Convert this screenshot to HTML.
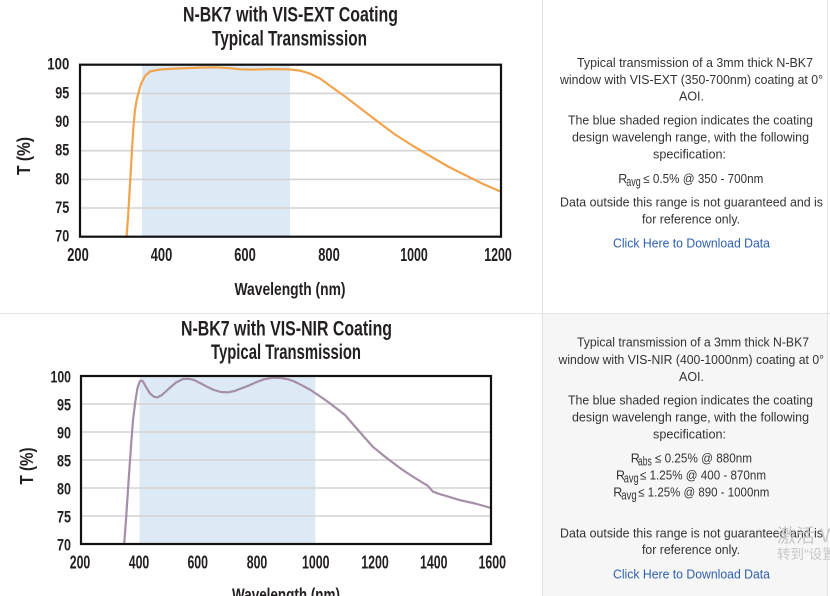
<!DOCTYPE html>
<html><head><meta charset="utf-8"><style>
html,body{margin:0;padding:0;background:#fff;}
body{width:830px;height:596px;overflow:hidden;}
svg{display:block;}
.t{font-family:"Liberation Sans Narrow","Liberation Sans",sans-serif;font-weight:bold;fill:#231f20;}
.p{font-family:"Liberation Sans","DejaVu Sans",sans-serif;fill:#333;font-size:12.5px;}
.lk{font-family:"Liberation Sans","DejaVu Sans",sans-serif;fill:#2d5fb0;font-size:12.5px;}
.wm{font-family:"Liberation Sans","Noto Sans CJK SC",sans-serif;fill:#c8c8c8;}
</style></head><body>
<svg width="830" height="596" viewBox="0 0 830 596" xmlns="http://www.w3.org/2000/svg">
<rect x="0" y="0" width="830" height="596" fill="#fff"/>
<rect x="543" y="314" width="284" height="282" fill="#f6f6f6"/>
<line x1="0" y1="313.5" x2="830" y2="313.5" stroke="#e2e2e2" stroke-width="1"/>
<line x1="542.5" y1="0" x2="542.5" y2="596" stroke="#e2e2e2" stroke-width="1"/>
<line x1="827.5" y1="0" x2="827.5" y2="596" stroke="#e2e2e2" stroke-width="1"/>

<!-- ===== Chart 1 ===== -->
<text class="t" x="183" y="21.7" font-size="21" textLength="215" lengthAdjust="spacingAndGlyphs">N-BK7 with VIS-EXT Coating</text>
<text class="t" x="212" y="45.5" font-size="21" textLength="155" lengthAdjust="spacingAndGlyphs">Typical Transmission</text>

<rect x="142" y="64.7" width="148" height="172" fill="#dde9f5"/>
<g stroke="#d3d3d3" stroke-width="1.6">
<line x1="80" y1="93.4" x2="501" y2="93.4"/>
<line x1="80" y1="122.0" x2="501" y2="122.0"/>
<line x1="80" y1="150.7" x2="501" y2="150.7"/>
<line x1="80" y1="179.4" x2="501" y2="179.4"/>
<line x1="80" y1="208.0" x2="501" y2="208.0"/>
</g>
<polyline fill="none" stroke="#f2a44c" stroke-width="2.2" stroke-linejoin="round" stroke-linecap="round"
points="126.5,237 128,218 130,184 132,150 133.5,126 135,110 136.7,100 138.3,93.3 141,84 145,76 150,71.5 160,69.5 175,68.6 200,67.6 215,67.3 230,68.2 240,69.3 252,69.6 270,69.1 288,69.3 300,70.6 310,73.6 320,78.5 331,86.5 345,96.5 360,108 379,122.5 395,134.5 414,146.5 430,156 448,166.5 465,175 482,183.5 501,191.7"/>
<rect x="80" y="64.7" width="421" height="172" fill="none" stroke="#111" stroke-width="2.2"/>

<g class="t" font-size="17" text-anchor="end">
<text x="69.3" y="69.6" textLength="22" lengthAdjust="spacingAndGlyphs">100</text>
<text x="69.3" y="98.4" textLength="14" lengthAdjust="spacingAndGlyphs">95</text>
<text x="69.3" y="127" textLength="14" lengthAdjust="spacingAndGlyphs">90</text>
<text x="69.3" y="155.7" textLength="14" lengthAdjust="spacingAndGlyphs">85</text>
<text x="69.3" y="184.4" textLength="14" lengthAdjust="spacingAndGlyphs">80</text>
<text x="69.3" y="213" textLength="14" lengthAdjust="spacingAndGlyphs">75</text>
<text x="69.3" y="241.7" textLength="14" lengthAdjust="spacingAndGlyphs">70</text>
</g>
<g class="t" font-size="18" text-anchor="middle">
<text x="78" y="261" textLength="21.5" lengthAdjust="spacingAndGlyphs">200</text>
<text x="161.5" y="261" textLength="21.5" lengthAdjust="spacingAndGlyphs">400</text>
<text x="245" y="261" textLength="21.5" lengthAdjust="spacingAndGlyphs">600</text>
<text x="329" y="261" textLength="21.5" lengthAdjust="spacingAndGlyphs">800</text>
<text x="414" y="261" textLength="27.5" lengthAdjust="spacingAndGlyphs">1000</text>
<text x="498" y="261" textLength="27.5" lengthAdjust="spacingAndGlyphs">1200</text>
</g>
<text class="t" x="234.5" y="295" font-size="17.5" textLength="111" lengthAdjust="spacingAndGlyphs">Wavelength (nm)</text>
<text class="t" font-size="18" text-anchor="middle" textLength="38" lengthAdjust="spacingAndGlyphs" transform="translate(30,156) rotate(-90)">T (%)</text>

<!-- ===== Chart 2 ===== -->
<text class="t" x="181" y="335.7" font-size="21" textLength="211" lengthAdjust="spacingAndGlyphs">N-BK7 with VIS-NIR Coating</text>
<text class="t" x="211" y="359" font-size="21" textLength="150" lengthAdjust="spacingAndGlyphs">Typical Transmission</text>

<rect x="139.6" y="376" width="175.7" height="168" fill="#dde9f5"/>
<g stroke="#d3d3d3" stroke-width="1.6">
<line x1="81" y1="404" x2="491" y2="404"/>
<line x1="81" y1="432" x2="491" y2="432"/>
<line x1="81" y1="460" x2="491" y2="460"/>
<line x1="81" y1="488" x2="491" y2="488"/>
<line x1="81" y1="516" x2="491" y2="516"/>
</g>
<polyline fill="none" stroke="#a58fa8" stroke-width="2.2" stroke-linejoin="round" stroke-linecap="round"
points="124.2,544 126,520 128.5,482 131.1,445 133,420 135.3,401.7 137.5,388 139.5,382 141,380.5 143,381.5 146,387 150,393.5 154,396.8 157.5,397.3 162,395 169,388.5 176,382.5 183,379 189,378.8 194,380 200,383 207,386.7 214,390 220.8,392 228,392.3 234.6,391 241,388.5 248.4,385.7 256,382.3 264,379.3 272.6,377.7 281,378 288,379.3 293.3,381 300,384.3 310.6,390 318,395 327.8,401.7 336,408 345,415 358,430 372.7,446.7 386,457.5 400.3,468.3 411,475.5 421,481.7 428,486 433,491.7 440,494.2 448.6,496.7 460,500.2 475,503.5 490,507.7"/>
<rect x="81" y="376" width="410" height="168" fill="none" stroke="#111" stroke-width="2.2"/>

<g class="t" font-size="17" text-anchor="end">
<text x="71" y="382.4" textLength="20.5" lengthAdjust="spacingAndGlyphs">100</text>
<text x="71" y="410.4" textLength="14" lengthAdjust="spacingAndGlyphs">95</text>
<text x="71" y="438.4" textLength="14" lengthAdjust="spacingAndGlyphs">90</text>
<text x="71" y="466.4" textLength="14" lengthAdjust="spacingAndGlyphs">85</text>
<text x="71" y="494.4" textLength="14" lengthAdjust="spacingAndGlyphs">80</text>
<text x="71" y="522.4" textLength="14" lengthAdjust="spacingAndGlyphs">75</text>
<text x="71" y="550.4" textLength="14" lengthAdjust="spacingAndGlyphs">70</text>
</g>
<g class="t" font-size="18" text-anchor="middle">
<text x="80" y="568.3" textLength="20.5" lengthAdjust="spacingAndGlyphs">200</text>
<text x="139" y="568.3" textLength="20.5" lengthAdjust="spacingAndGlyphs">400</text>
<text x="197.7" y="568.3" textLength="20.5" lengthAdjust="spacingAndGlyphs">600</text>
<text x="257" y="568.3" textLength="20.5" lengthAdjust="spacingAndGlyphs">800</text>
<text x="315.7" y="568.3" textLength="27.5" lengthAdjust="spacingAndGlyphs">1000</text>
<text x="375" y="568.3" textLength="27.5" lengthAdjust="spacingAndGlyphs">1200</text>
<text x="433.7" y="568.3" textLength="27.5" lengthAdjust="spacingAndGlyphs">1400</text>
<text x="492.3" y="568.3" textLength="27.5" lengthAdjust="spacingAndGlyphs">1600</text>
</g>
<text class="t" x="232" y="600.5" font-size="17.5" textLength="108" lengthAdjust="spacingAndGlyphs">Wavelength (nm)</text>
<text class="t" font-size="18" text-anchor="middle" textLength="37" lengthAdjust="spacingAndGlyphs" transform="translate(33,466) rotate(-90)">T (%)</text>

<!-- ===== Right panel 1 ===== -->
<text class="p" x="577" y="67" textLength="236" lengthAdjust="spacingAndGlyphs">Typical transmission of a 3mm thick N-BK7</text>
<text class="p" x="560" y="84" textLength="263" lengthAdjust="spacingAndGlyphs">window with VIS-EXT (350-700nm) coating at 0°</text>
<text class="p" x="691.5" y="100.5" text-anchor="middle">AOI.</text>
<text class="p" x="568" y="124.5" textLength="245" lengthAdjust="spacingAndGlyphs">The blue shaded region indicates the coating</text>
<text class="p" x="572" y="141.5" textLength="237" lengthAdjust="spacingAndGlyphs">design wavelengh range, with the following</text>
<text class="p" x="653" y="158.3" textLength="73" lengthAdjust="spacingAndGlyphs">specification:</text>
<text class="p" x="618.3" y="183">R</text>
<text class="p" x="626.3" y="186" font-size="9.5" textLength="14.4" lengthAdjust="spacingAndGlyphs">avg</text>
<text class="p" x="643.3" y="183" textLength="120" lengthAdjust="spacingAndGlyphs">≤ 0.5% @ 350 - 700nm</text>
<text class="p" x="560" y="206.3" textLength="263" lengthAdjust="spacingAndGlyphs">Data outside this range is not guaranteed and is</text>
<text class="p" x="642" y="223.3" textLength="98" lengthAdjust="spacingAndGlyphs">for reference only.</text>
<text class="lk" x="613" y="247.5" textLength="157" lengthAdjust="spacingAndGlyphs">Click Here to Download Data</text>

<!-- ===== Right panel 2 ===== -->
<text class="p" x="577" y="346.7" textLength="232" lengthAdjust="spacingAndGlyphs">Typical transmission of a 3mm thick N-BK7</text>
<text class="p" x="558.5" y="364" textLength="265.5" lengthAdjust="spacingAndGlyphs">window with VIS-NIR (400-1000nm) coating at 0°</text>
<text class="p" x="691.5" y="381" text-anchor="middle">AOI.</text>
<text class="p" x="568" y="404.3" textLength="245" lengthAdjust="spacingAndGlyphs">The blue shaded region indicates the coating</text>
<text class="p" x="572" y="421.7" textLength="237" lengthAdjust="spacingAndGlyphs">design wavelengh range, with the following</text>
<text class="p" x="653" y="438.3" textLength="73" lengthAdjust="spacingAndGlyphs">specification:</text>

<text class="p" x="630.7" y="462.7">R</text>
<text class="p" x="638" y="465.7" font-size="9.5" textLength="13.7" lengthAdjust="spacingAndGlyphs">abs</text>
<text class="p" x="655" y="462.7" textLength="97" lengthAdjust="spacingAndGlyphs">≤ 0.25% @ 880nm</text>

<text class="p" x="616" y="479.3">R</text>
<text class="p" x="623.8" y="482.3" font-size="9.5" textLength="14.9" lengthAdjust="spacingAndGlyphs">avg</text>
<text class="p" x="640" y="479.3" textLength="126" lengthAdjust="spacingAndGlyphs">≤ 1.25% @ 400 - 870nm</text>

<text class="p" x="613.3" y="496.7">R</text>
<text class="p" x="621.2" y="499.7" font-size="9.5" textLength="15.5" lengthAdjust="spacingAndGlyphs">avg</text>
<text class="p" x="638.3" y="496.7" textLength="131" lengthAdjust="spacingAndGlyphs">≤ 1.25% @ 890 - 1000nm</text>

<text class="p" x="560" y="537.3" textLength="263" lengthAdjust="spacingAndGlyphs">Data outside this range is not guaranteed and is</text>
<text class="p" x="642" y="554" textLength="98" lengthAdjust="spacingAndGlyphs">for reference only.</text>
<text class="lk" x="613" y="578.3" textLength="157" lengthAdjust="spacingAndGlyphs">Click Here to Download Data</text>

<text class="wm" x="777" y="542" font-size="19">激活 W</text>
<text class="wm" x="777" y="559" font-size="13.5">转到"设置"</text>
</svg>
</body></html>
